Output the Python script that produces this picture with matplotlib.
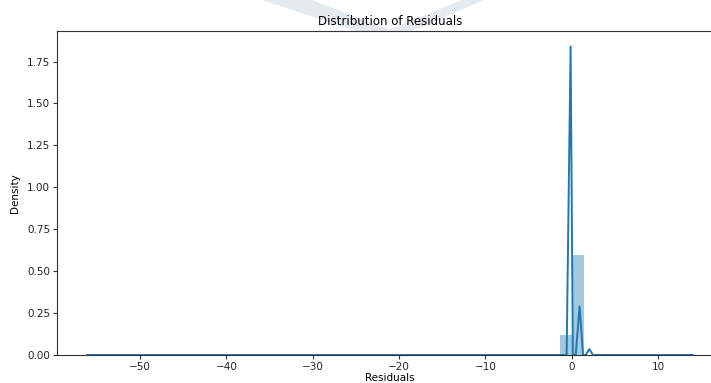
import matplotlib
matplotlib.use("Agg")
import matplotlib.pyplot as plt
from matplotlib.patches import Polygon
import numpy as np

# histogram of residuals (density), 50 equal bins over the data range
data_min, data_max = -56.1, 14.0
n_bins = 50
bin_heights = np.zeros(n_bins)
bin_heights[39] = 0.12
bin_heights[40] = 0.595

# kernel density curve, sampled on a coarse grid
kde_x = [-56.1, -0.6, -0.14, 0.12, 0.45, 0.9, 1.3, 1.6, 2.03, 2.45, 14.0]
kde_y = [0.0, 0.0, 1.84, 0.0, 0.0, 0.29, 0.0, 0.0, 0.035, 0.0, 0.0]

blue = "#1f77b4"
plt.rcParams["font.family"] = "DejaVu Sans"
plt.rcParams["font.size"] = 7.5

fig = plt.figure(figsize=(7.11, 3.83), dpi=100)

# faint chevron behind the plot area
W, H = 711, 383
for pts in ([(262, 0), (312, 0), (392, 31), (356, 31)],
            [(462, 0), (484, 0), (412, 31), (386, 31)]):
    fig.patches.append(Polygon([(x / W, 1 - y / H) for x, y in pts], closed=True,
                               transform=fig.transFigure, facecolor="#e4eaed",
                               edgecolor="none", zorder=-1))

ax = fig.add_axes([57 / W, 1 - 355 / H, (723 - 57) / W, (355 - 31) / H])

edges = np.linspace(data_min, data_max, n_bins + 1)
ax.bar(edges[:-1], bin_heights, width=np.diff(edges), align="edge",
       color=blue, alpha=0.4, linewidth=0)
ax.plot(kde_x, kde_y, color=blue, linewidth=1.4)

span = data_max - data_min
ax.set_xlim(data_min - 0.05 * span, data_max + 0.05 * span)
ax.set_ylim(0, 1.84 * 1.05)
ax.set_yticks(np.arange(0, 1.76, 0.25))
ax.set_xticks([-50, -40, -30, -20, -10, 0, 10])
ax.xaxis.set_major_formatter(matplotlib.ticker.FuncFormatter(lambda v, p: f"{int(v)}".replace("-", "\u2212")))

ax.spines["right"].set_visible(False)
for s in ax.spines.values():
    s.set_color("#333333")
    s.set_linewidth(0.8)
ax.tick_params(length=3, width=0.8, color="#333333", labelcolor="#222222", pad=2)

ax.set_title("Distribution of Residuals", fontsize=8.5, pad=4)
ax.set_xlabel("Residuals", labelpad=1)
ax.set_ylabel("Density", labelpad=5)

fig.savefig("out.png", dpi=100)
